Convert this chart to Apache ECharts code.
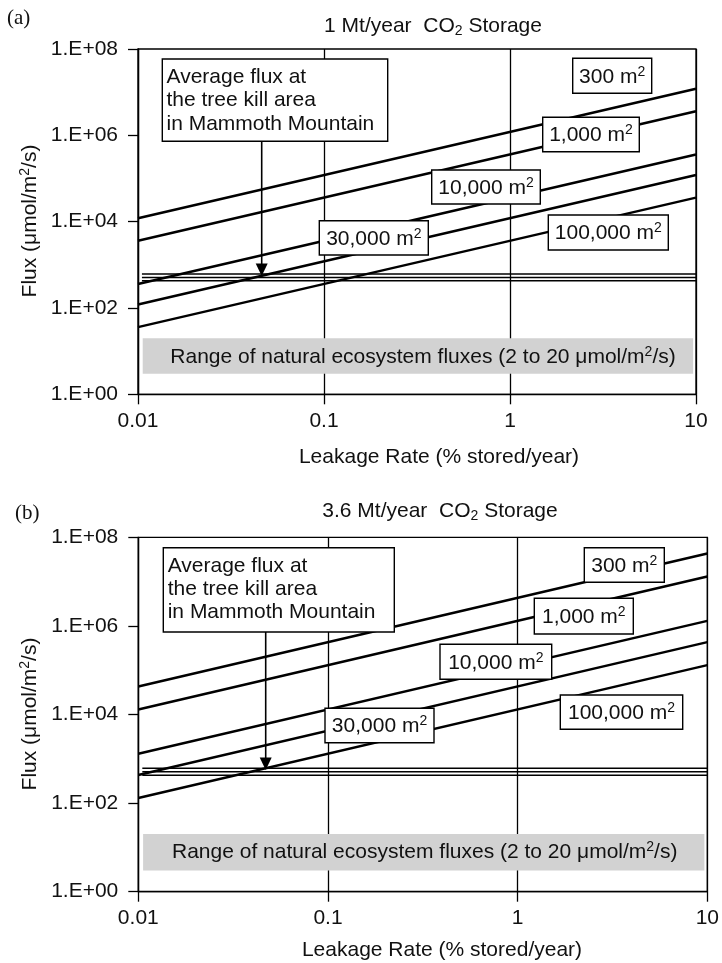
<!DOCTYPE html>
<html>
<head>
<meta charset="utf-8">
<script src="https://cdn.jsdelivr.net/npm/echarts@6/dist/echarts.min.js"></script>
<style>
html,body{margin:0;padding:0;background:#fff;}
#chart{width:722px;height:963px;}
</style>
</head>
<body>
<div id="chart"></div>
<script>
// ---- data ----
const leakageRate = [0.01, 10];               // % stored / year (x endpoints)
const areaNames = ['300', '1,000', '10,000', '30,000', '100,000'];
// panel (a): 1 Mt/year CO2 storage, flux (umol/m2/s) at x = 0.01 and x = 10
const fluxA_300 = [1.2e4, 1.2e7];
const fluxA_1000 = [3.6e3, 3.6e6];
const fluxA_10000 = [3.6e2, 3.6e5];
const fluxA_30000 = [1.2e2, 1.2e5];
const fluxA_100000 = [3.6e1, 3.6e4];
// panel (b): 3.6 Mt/year CO2 storage
const fluxB_300 = [4.3e4, 4.3e7];
const fluxB_1000 = [1.3e4, 1.3e7];
const fluxB_10000 = [1.3e3, 1.3e6];
const fluxB_30000 = [4.3e2, 4.3e5];
const fluxB_100000 = [1.3e2, 1.3e5];
// Mammoth Mountain tree-kill average flux (triple line)
const mammothX = [0.0105, 10];
const mammothFlux = [610, 510, 425];
// natural ecosystem flux band
const bandX = [0.0106, 9.65];
const bandFlux = [3, 20];
// tick labels
const xTickLabels = ['0.01', '0.1', '1', '10'];
const yTickLabels = ['1.E+00', '1.E+02', '1.E+04', '1.E+06', '1.E+08'];

const FONT = '"Liberation Sans", Arial, Helvetica, sans-serif';
const chart = echarts.init(document.getElementById('chart'), null, {renderer: 'canvas'});

function xAxisCfg(gi) {
  return {
    type: 'log', logBase: 10, min: 0.01, max: 10, gridIndex: gi,
    axisLine: {show: true, onZero: false, lineStyle: {color: '#000', width: 1.3}},
    axisTick: {show: true, inside: false, length: 10, lineStyle: {color: '#000', width: 1.3}},
    minorTick: {show: false},
    axisLabel: {margin: 16, fontSize: 21, color: '#111', fontFamily: FONT,
      formatter: v => { const e = Math.round(Math.log10(v)); return xTickLabels[e + 2] || ''; }},
    splitLine: {show: true, lineStyle: {color: '#000', width: 1.3}}
  };
}
function yAxisCfg(gi) {
  return {
    type: 'log', logBase: 10, min: 1, max: 1e8, interval: 2, gridIndex: gi,
    axisLine: {show: true, onZero: false, lineStyle: {color: '#000', width: 1.3}},
    axisTick: {show: true, inside: false, length: 10, lineStyle: {color: '#000', width: 1.3}},
    minorTick: {show: false},
    axisLabel: {margin: 20, fontSize: 21, color: '#111', fontFamily: FONT,
      formatter: v => { const e = Math.round(Math.log10(v)); return (e % 2 === 0) ? (yTickLabels[e / 2] || '') : ''; }},
    splitLine: {show: false}
  };
}

function lineSeries(gi, arr) {
  return {
    type: 'line', xAxisIndex: gi, yAxisIndex: gi, symbol: 'none', silent: true,
    data: leakageRate.map((x, i) => [x, arr[i]]),
    lineStyle: {color: '#000', width: 2.5}, z: 5
  };
}
function mammothSeries(gi, v, withBand) {
  const s = {
    type: 'line', xAxisIndex: gi, yAxisIndex: gi, symbol: 'none', silent: true,
    data: mammothX.map(x => [x, v]),
    lineStyle: {color: '#000', width: 1.5}, z: 4
  };
  if (withBand) {
    s.markArea = {
      silent: true,
      itemStyle: {color: '#d2d2d2'},
      data: [[{coord: [bandX[0], bandFlux[1]]}, {coord: [bandX[1], bandFlux[0]]}]]
    };
  }
  return s;
}

const series = [];
[fluxA_300, fluxA_1000, fluxA_10000, fluxA_30000, fluxA_100000].forEach(a => series.push(lineSeries(0, a)));
[fluxB_300, fluxB_1000, fluxB_10000, fluxB_30000, fluxB_100000].forEach(a => series.push(lineSeries(1, a)));
mammothFlux.forEach((v, i) => { series.push(mammothSeries(0, v, i === 0)); series.push(mammothSeries(1, v, i === 0)); });

// ---- annotations ----
const richBase = {
  n: {fontSize: 21, fontFamily: FONT, fill: '#111', lineHeight: 24},
  sup: {fontSize: 14, fontFamily: FONT, fill: '#111', lineHeight: 14, verticalAlign: 'top'},
  sub: {fontSize: 14, fontFamily: FONT, fill: '#111', lineHeight: 14, verticalAlign: 'bottom'}
};
const G = [];
function txt(x, y, text, opts) {
  G.push(Object.assign({
    type: 'text', x: x, y: y, z: 110,
    style: Object.assign({text: text, rich: richBase, align: 'center', verticalAlign: 'middle', fill: '#111',
      font: '21px ' + FONT}, (opts && opts.style) || {})
  }, (opts && opts.el) || {}));
}
function box(x, y, w, h, label) {
  G.push({type: 'rect', z: 100, shape: {x: x, y: y, width: w, height: h},
    style: {fill: '#fff', stroke: '#000', lineWidth: 1.4}});
  if (label) txt(x + w / 2, y + h / 2 + 1, '{n|' + label + ' m}{sup|2}');
}
function arrow(x, y0, y1) {
  G.push({type: 'line', z: 100, shape: {x1: x, y1: y0, x2: x, y2: y1 - 11},
    style: {stroke: '#000', lineWidth: 1.6}});
  G.push({type: 'polygon', z: 100, shape: {points: [[x - 6, y1 - 12.5], [x + 6, y1 - 12.5], [x, y1]]},
    style: {fill: '#000'}});
}

// panel (a)
txt(7, 18, '(a)', {style: {align: 'left', font: '21px "Liberation Serif", "Times New Roman", serif'}});
txt(433, 26, '{n|1 Mt/year  CO}{sub|2}{n| Storage}');
txt(30, 221, '{n|Flux (\u03bcmol/m}{sup|2}{n|/s)}', {el: {rotation: Math.PI / 2}});
txt(439, 457, 'Leakage Rate (% stored/year)');
box(162.3, 59, 225.4, 82.3);
txt(166.5, 77, 'Average flux at', {style: {align: 'left'}});
txt(166.5, 100.5, 'the tree kill area', {style: {align: 'left'}});
txt(166.5, 124, 'in Mammoth Mountain', {style: {align: 'left'}});
arrow(261.7, 141.3, 276);
box(572.7, 58.3, 79, 35, areaNames[0]);
box(542.7, 117.3, 96.6, 34.4, areaNames[1]);
box(431.7, 170, 108.6, 34, areaNames[2]);
box(319.3, 220.7, 109, 34.3, areaNames[3]);
box(548.3, 215, 120, 35, areaNames[4]);
txt(423, 357, '{n|Range of natural ecosystem fluxes (2 to 20 \u03bcmol/m}{sup|2}{n|/s)}');

// panel (b)
txt(15, 513, '(b)', {style: {align: 'left', font: '21px "Liberation Serif", "Times New Roman", serif'}});
txt(440, 511, '{n|3.6 Mt/year  CO}{sub|2}{n| Storage}');
txt(30, 714, '{n|Flux (\u03bcmol/m}{sup|2}{n|/s)}', {el: {rotation: Math.PI / 2}});
txt(442, 950, 'Leakage Rate (% stored/year)');
box(163.3, 547.7, 231, 84.3);
txt(167.7, 566, 'Average flux at', {style: {align: 'left'}});
txt(167.7, 589.3, 'the tree kill area', {style: {align: 'left'}});
txt(167.7, 612.7, 'in Mammoth Mountain', {style: {align: 'left'}});
arrow(265.7, 632, 770);
box(584.3, 547.7, 80, 34.6, areaNames[0]);
box(534.3, 598.3, 99, 35.7, areaNames[1]);
box(440, 644.3, 111.7, 35, areaNames[2]);
box(325, 708.3, 109, 34.4, areaNames[3]);
box(560.3, 695, 122.4, 34.3, areaNames[4]);
txt(424.7, 852.5, '{n|Range of natural ecosystem fluxes (2 to 20 \u03bcmol/m}{sup|2}{n|/s)}');

chart.setOption({
  animation: false,
  backgroundColor: '#fff',
  textStyle: {fontFamily: FONT},
  grid: [
    {left: 138, top: 49, width: 558, height: 345.3, show: true, borderColor: '#000', borderWidth: 1.3, backgroundColor: 'transparent'},
    {left: 138.3, top: 537.3, width: 572, height: 354.4, show: true, borderColor: '#000', borderWidth: 1.3, backgroundColor: 'transparent'}
  ],
  xAxis: [xAxisCfg(0), xAxisCfg(1)],
  yAxis: [yAxisCfg(0), yAxisCfg(1)],
  series: series,
  graphic: G
});
</script>
</body>
</html>
